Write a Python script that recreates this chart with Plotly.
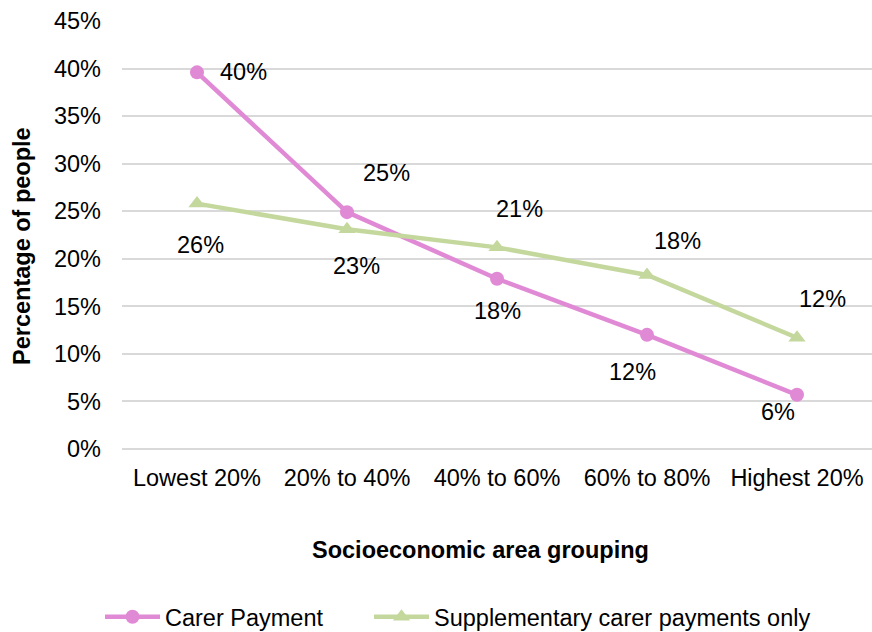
import plotly.graph_objects as go

categories = ["Lowest 20%", "20% to 40%", "40% to 60%", "60% to 80%", "Highest 20%"]
carer_payment = [39.6, 24.9, 17.9, 12.0, 5.7]
supplementary = [25.8, 23.1, 21.2, 18.3, 11.7]
carer_labels = ["40%", "25%", "18%", "12%", "6%"]
supp_labels = ["26%", "23%", "21%", "18%", "12%"]
y_ticks = [0, 5, 10, 15, 20, 25, 30, 35, 40, 45]

carer_offsets = [(46, 0), (39, 39), (0, -32), (-15, -37), (-19, -17)]
supp_offsets = [(3, -41), (9, -37), (22, 38), (30, 34), (25, 39)]

PINK = "#E08AD5"
GREEN = "#C4D89E"
FONT = "Liberation Sans, Arial, sans-serif"
FS = 23.5

fig = go.Figure()
fig.add_trace(go.Scatter(
    x=categories, y=carer_payment, name="Carer Payment", mode="lines+markers",
    line=dict(color=PINK, width=4.5), marker=dict(symbol="circle", size=14, color=PINK),
    legend="legend",
))
fig.add_trace(go.Scatter(
    x=categories, y=supplementary, name="Supplementary carer payments only", mode="lines+markers",
    line=dict(color=GREEN, width=4.5), marker=dict(symbol="triangle-up", size=15, color=GREEN),
    legend="legend2",
))

for vals, labs, offs in [(carer_payment, carer_labels, carer_offsets), (supplementary, supp_labels, supp_offsets)]:
    for c, v, t, (dx, dy) in zip(categories, vals, labs, offs):
        fig.add_annotation(x=c, y=v, text=t, showarrow=False, xshift=dx, yshift=dy,
                           font=dict(size=FS, color="#000000", family=FONT))

# axis titles
fig.add_annotation(xref="paper", yref="paper", x=(480 - 122) / 750, y=-(550 - 449) / 428,
                   text="<b>Socioeconomic area grouping</b>", showarrow=False,
                   xanchor="center", yanchor="middle", font=dict(size=FS, family=FONT))
fig.add_annotation(xref="paper", yref="paper", x=-(122 - 22) / 750, y=(449 - 246) / 428,
                   text="<b>Percentage of people</b>", showarrow=False, textangle=-90,
                   xanchor="center", yanchor="middle", font=dict(size=FS, family=FONT))

legend_common = dict(orientation="h", xref="container", yref="container",
                     xanchor="left", y=15 / 632, yanchor="middle",
                     font=dict(size=FS), itemwidth=55, bgcolor="rgba(0,0,0,0)")

fig.update_layout(
    width=872, height=632,
    margin=dict(l=122, r=0, t=21, b=183, autoexpand=False),
    plot_bgcolor="white", paper_bgcolor="white",
    font=dict(family=FONT, size=FS, color="#000000"),
    showlegend=True,
    legend=dict(x=100 / 872, **legend_common),
    legend2=dict(x=369 / 872, **legend_common),
    xaxis=dict(
        showgrid=False, showline=False, ticks="", tickfont=dict(size=FS),
        range=[-0.5, 4.5], automargin=False, ticklabelstandoff=12,
    ),
    yaxis=dict(
        range=[0, 45], tickvals=y_ticks, ticktext=[f"{v}%" for v in y_ticks],
        showgrid=True, gridcolor="#D9D9D9", gridwidth=1.5,
        zeroline=True, zerolinecolor="#D9D9D9", zerolinewidth=1.5,
        showline=False, ticks="", tickfont=dict(size=FS), automargin=False,
        ticklabelstandoff=20,
    ),
)

fig.write_html(
    "out.html",
    config={"displayModeBar": False},
    post_script="document.body.style.margin='0';document.body.style.overflow='hidden';",
)
